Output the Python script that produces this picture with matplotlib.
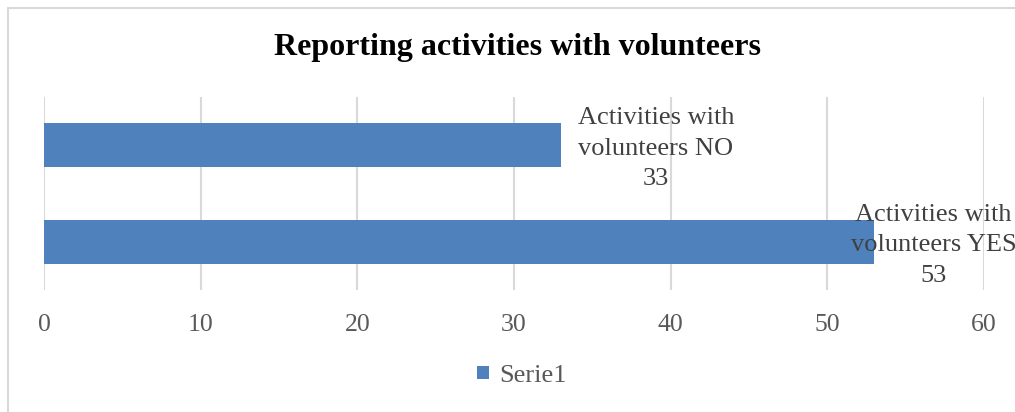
import matplotlib
matplotlib.use("Agg")
import matplotlib.pyplot as plt
from matplotlib.patches import Rectangle, Patch

# Data
categories = ["Activities with\nvolunteers YES", "Activities with\nvolunteers NO"]
values = [53, 33]
series_name = "Serie1"
title = "Reporting activities with volunteers"
xticks = [0, 10, 20, 30, 40, 50, 60]

BAR = "#4F81BD"
GRID = "#D9D9D9"
TICK = "#595959"
LABEL = "#404040"
SERIF = ["Liberation Serif", "DejaVu Serif"]

W, H = 1015, 412
fig = plt.figure(figsize=(W / 100, H / 100), dpi=100)
fig.patch.set_facecolor("white")

ax = fig.add_axes([44 / W, 1 - 290 / H, (984 - 44) / W, (290 - 97) / H])
pos = list(range(len(categories)))
ax.barh(pos, values, height=0.456, color=BAR, zorder=3)
ax.set_xlim(0, 60)
ax.set_ylim(-0.5, len(categories) - 0.5)
ax.set_xticks(xticks)
ax.set_xticklabels([str(t) for t in xticks], fontfamily=SERIF, fontsize=18.5, color=TICK)
ax.set_yticks([])
ax.tick_params(axis="x", length=0, pad=17)
ax.grid(axis="x", color=GRID, linewidth=1.5, zorder=0)
for s in ax.spines.values():
    s.set_visible(False)

# Data labels
offsets = [59, 95]
for p, v, c, off in zip(pos, values, categories, offsets):
    ax.annotate(f"{c}\n{v}", xy=(v, p), xytext=(off * 0.72, -2.5), textcoords="offset points",
                ha="center", va="center", multialignment="center",
                fontfamily=SERIF, fontsize=19, color=LABEL, linespacing=1.5,
                annotation_clip=False, zorder=4)

fig.text(517 / W, 1 - 47 / H, title, ha="center", va="center",
         fontfamily=SERIF, fontsize=23, fontweight="bold", color="black")

leg = fig.legend(handles=[Patch(facecolor=BAR, label=series_name)],
                 loc="center", bbox_to_anchor=(522 / W, 1 - 376 / H), frameon=False,
                 prop={"family": SERIF, "size": 19}, handlelength=0.42, handleheight=0.42,
                 handletextpad=0.4)
for t in leg.get_texts():
    t.set_color(TICK)

fig.patches.append(Rectangle((7.5 / W, -0.2), 1.2, (H - 7.5) / H + 0.2, transform=fig.transFigure,
                             fill=False, edgecolor=GRID, linewidth=1.5))

fig.savefig("out.png", dpi=100)
